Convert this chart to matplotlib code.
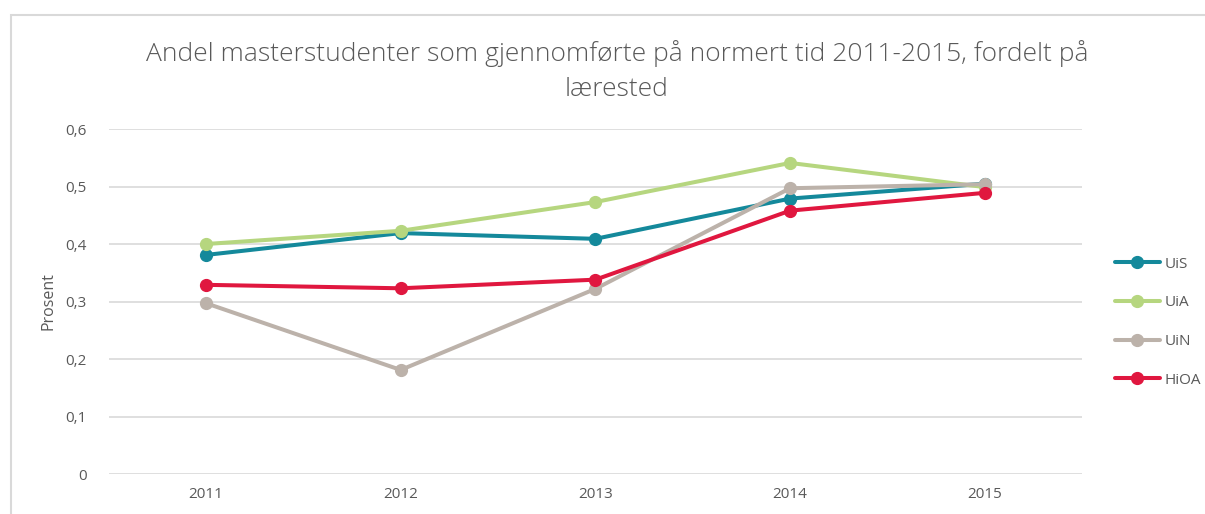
import matplotlib.pyplot as plt
from matplotlib.patches import Rectangle
from matplotlib.ticker import FuncFormatter

# Data
years = [2011, 2012, 2013, 2014, 2015]
uis = [0.381, 0.419, 0.409, 0.479, 0.505]
uia = [0.400, 0.423, 0.473, 0.541, 0.499]
uin = [0.297, 0.181, 0.322, 0.497, 0.504]
hioa = [0.329, 0.323, 0.338, 0.458, 0.489]

series = [("UiS", uis, "#14899B"),
          ("UiA", uia, "#B6D67F"),
          ("UiN", uin, "#BCB2AA"),
          ("HiOA", hioa, "#E0173F")]

plt.rcParams['font.family'] = ['Open Sans', 'DejaVu Sans']
text_col = "#595959"

fig = plt.figure(figsize=(12.05, 5.14), dpi=100)
ax = fig.add_axes([0.0902, 0.0778, 0.8078, 0.6712])

# outer chart frame
fig.patches.append(Rectangle((10.5 / 1205, -0.2), 1.2, 1.2 - 15.5 / 514,
                             transform=fig.transFigure, fill=False,
                             edgecolor="#D9D9D9", linewidth=1.5))

for name, vals, col in series:
    ax.plot(years, vals, color=col, linewidth=2.9, marker="o",
            markersize=8.5, label=name, solid_capstyle="round")

ax.set_xlim(2010.5, 2015.5)
ax.set_ylim(0, 0.6)
ax.set_yticks([0, 0.1, 0.2, 0.3, 0.4, 0.5, 0.6])
ax.set_xticks(years)
ax.yaxis.set_major_formatter(FuncFormatter(
    lambda v, p: "0" if v == 0 else f"{v:.1f}".replace(".", ",")))
ax.grid(axis="y", color="#D9D9D9", linewidth=1.2)
ax.set_axisbelow(True)
for s in ax.spines.values():
    s.set_visible(False)
ax.tick_params(length=0, labelsize=11, labelcolor=text_col, pad=9)
ax.tick_params(axis="y", pad=16)
ax.set_ylabel("Prosent", fontsize=11.5, color=text_col, labelpad=6)

fig.text(0.512, 0.862,
         "Andel masterstudenter som gjennomførte på normert tid 2011-2015, fordelt på\nlærested",
         ha="center", va="center", fontsize=19, color=text_col,
         fontweight="light", linespacing=1.5)

ax.legend(loc="center left", bbox_to_anchor=(1.02, 0.44), frameon=False,
          fontsize=11, handlelength=2.9, labelspacing=1.55, handletextpad=0.3,
          labelcolor=text_col)

fig.savefig("out.png", dpi=100)
